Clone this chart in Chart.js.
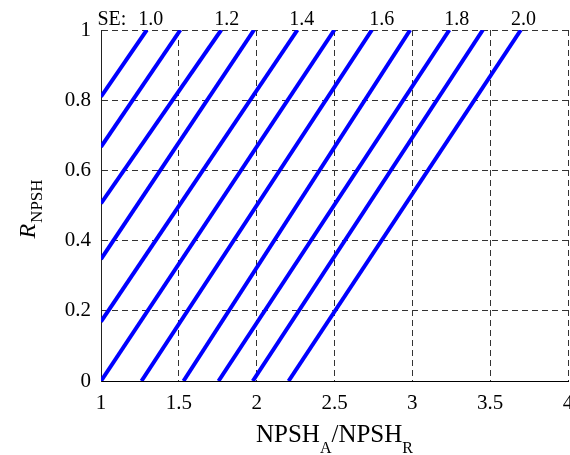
<!DOCTYPE html>
<html>
<head>
<meta charset="utf-8">
<script src="https://cdn.jsdelivr.net/npm/chart.js@4.4.1/dist/chart.umd.min.js"></script>
<style>
  html, body { margin: 0; padding: 0; background: #fff; overflow: hidden; }
  #wrap { width: 570px; height: 455px; }
</style>
</head>
<body>
<div id="wrap"><canvas id="c" width="570" height="455"></canvas></div>
<script>
// ---- data ----
const lineStartX = [1, 1, 1, 1, 1, 1, 1.26, 1.53, 1.755, 1.975, 2.205];
const lineStartY = [0.81, 0.667, 0.506, 0.347, 0.169, 0, 0, 0, 0, 0, 0];
const lineEndX   = [1.294, 1.51, 1.772, 1.983, 2.262, 2.499, 2.74, 2.986, 3.238, 3.453, 3.697];
const lineEndY   = [1, 1, 1, 1, 1, 1, 1, 1, 1, 1, 1];
const seLabels   = ['1.0', '1.2', '1.4', '1.6', '1.8', '2.0'];
const seLabelX   = [1.32, 1.808, 2.29, 2.804, 3.286, 3.714];
const xTicks = [1, 1.5, 2, 2.5, 3, 3.5, 4];
const yTicks = [0, 0.2, 0.4, 0.6, 0.8, 1];

const SERIF = '"Liberation Serif", "Times New Roman", serif';

const datasets = lineStartX.map((sx, i) => ({
  data: [{x: sx, y: lineStartY[i]}, {x: lineEndX[i], y: lineEndY[i]}],
  borderColor: '#0000ff',
  borderWidth: 4,
  pointRadius: 0,
  fill: false,
  tension: 0,
  borderCapStyle: 'butt'
}));

const annotations = {
  id: 'annotations',
  afterDraw(chart) {
    const ctx = chart.ctx;
    const xs = chart.scales.x, ys = chart.scales.y;
    ctx.save();
    ctx.fillStyle = '#000';
    // SE labels
    ctx.font = '20px ' + SERIF;
    ctx.textBaseline = 'alphabetic';
    ctx.textAlign = 'center';
    const top = ys.getPixelForValue(1);
    seLabels.forEach((t, i) => {
      ctx.fillText(t, xs.getPixelForValue(seLabelX[i]), top - 5);
    });
    const firstX = xs.getPixelForValue(seLabelX[0]);
    const w0 = ctx.measureText(seLabels[0]).width;
    ctx.textAlign = 'right';
    ctx.fillText('SE:', firstX - w0 / 2 - 12, top - 5);

    // x axis title: NPSH_A/NPSH_R
    const parts = [
      {t: 'NPSH', sub: false}, {t: 'A', sub: true},
      {t: '/NPSH', sub: false}, {t: 'R', sub: true}
    ];
    const mainFont = '25px ' + SERIF, subFont = '16px ' + SERIF;
    let total = 0;
    parts.forEach(p => { ctx.font = p.sub ? subFont : mainFont; p.w = ctx.measureText(p.t).width; total += p.w; });
    let cx = (chart.chartArea.left + chart.chartArea.right) / 2 - total / 2;
    const base = 442;
    ctx.textAlign = 'left';
    parts.forEach(p => {
      ctx.font = p.sub ? subFont : mainFont;
      ctx.fillText(p.t, cx, p.sub ? base + 11 : base);
      cx += p.w;
    });

    // y axis title: R_NPSH (rotated)
    ctx.translate(35, (chart.chartArea.top + chart.chartArea.bottom) / 2);
    ctx.rotate(-Math.PI / 2);
    const rFont = 'italic 24px ' + SERIF, sFont = '17px ' + SERIF;
    ctx.font = rFont; const rw = ctx.measureText('R').width;
    ctx.font = sFont; const sw = ctx.measureText('NPSH').width;
    let sx = -(rw + sw) / 2 - 4;
    ctx.font = rFont; ctx.fillText('R', sx, 0);
    ctx.font = sFont; ctx.fillText('NPSH', sx + rw + 1, 7);
    ctx.restore();
  }
};

new Chart(document.getElementById('c'), {
  type: 'line',
  data: { datasets },
  plugins: [annotations],
  options: {
    responsive: false,
    animation: false,
    devicePixelRatio: 1,
    layout: { padding: { top: 30, right: 2, left: 0, bottom: 0 } },
    plugins: { legend: { display: false }, tooltip: { enabled: false } },
    scales: {
      x: {
        type: 'linear', min: 1, max: 4,
        afterBuildTicks(s) { s.ticks = xTicks.map(v => ({value: v})); },
        afterFit(s) { s.height = 74; s.paddingLeft = 0; s.paddingRight = 0; },
        ticks: { color: '#000', font: { family: SERIF, size: 21 }, padding: 10, maxRotation: 0, autoSkip: false,
                 callback: v => String(v) },
        grid: { color: '#333', lineWidth: 1, drawTicks: false },
        border: { display: true, color: '#000', width: 1, dash: [6, 4] }
      },
      y: {
        type: 'linear', min: 0, max: 1,
        afterBuildTicks(s) { s.ticks = yTicks.map(v => ({value: v})); },
        afterFit(s) { s.width = 101; },
        ticks: { color: '#000', font: { family: SERIF, size: 21 }, padding: 10,
                 callback: v => String(v) },
        grid: { color: '#333', lineWidth: 1, drawTicks: false },
        border: { display: true, color: '#222', width: 1, dash: [6, 4] }
      }
    }
  }
});
</script>
</body>
</html>
